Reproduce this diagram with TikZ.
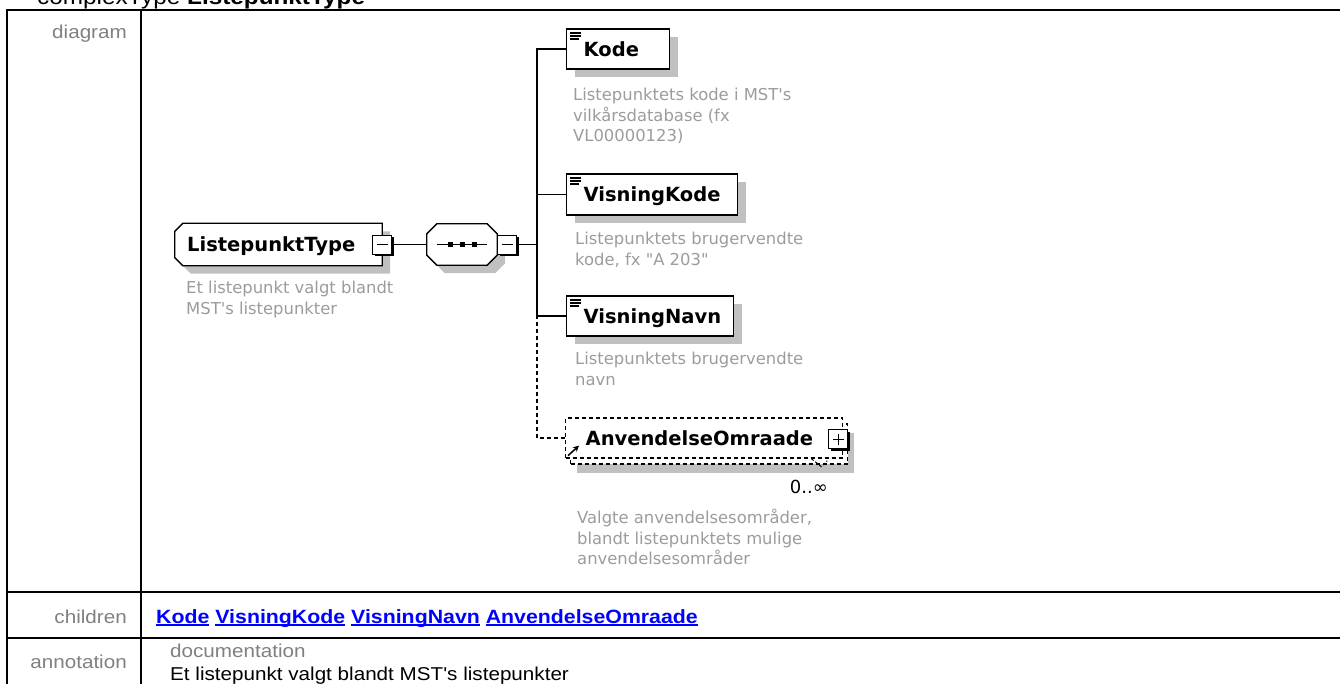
\documentclass[tikz,border=0pt]{standalone}
\usepackage{fontspec}
\setmainfont{Liberation Sans}[FakeStretch=1.11,Ligatures=TeXOff]
\newfontfamily\diafont{DejaVu Sans}[Ligatures=TeXOff]
\usetikzlibrary{arrows.meta,calc,shadows}
\definecolor{ink}{HTML}{000000}
\definecolor{muted}{HTML}{808080}
\definecolor{notegray}{HTML}{9C9C9C}
\definecolor{shade}{HTML}{C0C0C0}
\definecolor{link}{HTML}{0000FF}
\newcommand\linkword[1]{\setbox0\hbox{#1}\rlap{\rule[-2.6pt]{\wd0}{1.4pt}}\box0\relax}

\begin{document}
\begin{tikzpicture}[x=1pt,y=-1pt,font=\fontsize{18.6}{22}\selectfont,
  rule/.style={draw=ink,line width=2pt},
  wire/.style={draw=ink,line width=1.2pt},
  optwire/.style={wire,dash pattern=on 4pt off 3pt},
  rowlabel/.style={text=muted,anchor=base east,inner sep=0pt},
  note/.style={font=\diafont\fontsize{16.4}{20.5}\selectfont,text=notegray,align=left,
    anchor=north west,inner sep=0pt},
  namefont/.style={font=\diafont\bfseries\fontsize{19.5}{22}\selectfont,text height=14pt,text depth=0pt},
  outline/.style={draw=ink,line width=1.3pt,fill=white,
    preaction={fill=shade,transform canvas={xshift=8pt,yshift=-8pt}}},
  boxbase/.style={namefont,draw=ink,line width=1.3pt,fill=white,anchor=west,inner xsep=17pt,
    inner ysep=0pt,minimum height=40pt,align=left},
  elem/.style={boxbase,
    drop shadow={shadow xshift=8pt,shadow yshift=-8pt,fill=shade,opacity=1},
    path picture={\foreach \dy/\len in {4/11,7/11,10/9}
      \draw[line width=1.3pt] ($(path picture bounding box.north west)+(3,\dy)$) -- ++(\len,0);}},
  refelem/.style={boxbase,dash pattern=on 4pt off 3pt,inner xsep=20pt,
    drop shadow={shadow xshift=11pt,shadow yshift=-15pt,fill=shade,opacity=1},
    copy shadow={shadow xshift=5pt,shadow yshift=-6pt,fill=white,draw=ink,dash pattern=on 4pt off 3pt}},
  toggle/.style={draw=ink,line width=1pt,fill=white,minimum size=19pt,inner sep=0pt,
    drop shadow={shadow xshift=2pt,shadow yshift=-2pt,fill=ink,opacity=1}},
  minus/.style={toggle,path picture={\draw[line width=1pt]
    ($(path picture bounding box.west)+(4,0)$) -- ($(path picture bounding box.east)+(-4,0)$);}},
  plus/.style={toggle,path picture={\draw[line width=1pt]
    ($(path picture bounding box.west)+(4,0)$) -- ($(path picture bounding box.east)+(-4,0)$)
    ($(path picture bounding box.north)+(0,4)$) -- ($(path picture bounding box.south)+(0,-4)$);}},
  frame/.style={inner sep=0pt}]
\path[use as bounding box] (0,0) rectangle (1340,683);
% page heading, mostly above the visible area
\node[anchor=base west,inner sep=0pt,font=\fontsize{21.9}{26}\selectfont] (title) at (37,4)
  {complexType \textbf{ListepunktType}};

% table frame and row labels
\draw[rule] (7,700) -- (7,10) -- (1360,10);
\draw[rule] (141,10) -- (141,700);
\draw[rule] (7,592) -- (1360,592);
\draw[rule] (7,638) -- (1360,638);
\node[rowlabel] (diag) at (127,38.5) {diagram};
\node[rowlabel] (kids) at (127,623) {children};
\node[rowlabel] (anno) at (127,668) {annotation};

% complex type: left corners cut
\node[frame,minimum width=207pt,minimum height=42pt] (lptype) at (278.5,244.5) {};
\path[outline] ($(lptype.north west)+(8,0)$) -- (lptype.north east) -- (lptype.south east)
  -- ($(lptype.south west)+(8,0)$) -- ($(lptype.south west)+(0,-8)$) -- ($(lptype.north west)+(0,8)$) -- cycle;
\node[namefont,anchor=west,inner sep=0pt] (lpname) at (187,244.5) {ListepunktType};
\node[minus] (lpfold) at (lptype.east) {};
\node[note] (lpnote) at (186,281) {Et listepunkt valgt blandt\\MST's listepunkter};

% sequence compositor: all corners cut
\node[frame,minimum width=70pt,minimum height=41pt] (seq) at (462,244.5) {};
\path[outline] ($(seq.north west)+(10,0)$) -- ($(seq.north east)+(-10,0)$) -- ($(seq.north east)+(0,10)$)
  -- ($(seq.south east)+(0,-10)$) -- ($(seq.south east)+(-10,0)$) -- ($(seq.south west)+(10,0)$)
  -- ($(seq.south west)+(0,-10)$) -- ($(seq.north west)+(0,10)$) -- cycle;
\draw[line width=1.2pt] ($(seq.center)+(-25,0)$) -- ($(seq.center)+(25,0)$);
\foreach \dx in {-12,0,12}
  \fill[ink] ($(seq.center)+(\dx,0)$) ++(-2.5,-2.5) rectangle ++(5,5);
\node[minus,anchor=west] (seqfold) at (seq.east) {};
\coordinate (fork) at (537,244.5);

% child elements
\node[elem,text width=69pt] (kode) at (566,49) {Kode};
\node[note] (kodenote) at (573,88) {Listepunktets kode i MST's\\vilkårsdatabase (fx\\VL00000123)};
\node[elem,text width=137pt,minimum height=41pt] (viskode) at (566,194.5) {VisningKode};
\node[note] (viskodenote) at (575,232) {Listepunktets brugervendte\\kode, fx "A 203"};
\node[elem,text width=133pt] (visnavn) at (566,316) {VisningNavn};
\node[note] (visnavnnote) at (575,352) {Listepunktets brugervendte\\navn};
\node[refelem,text width=237pt] (anvomr) at (565,438) {AnvendelseOmraade};
\node[plus] (anvfold) at ($(anvomr.east)+(-5,1)$) {};
\draw[line width=1.5pt,-{Stealth[length=6pt,width=6pt]}] ($(anvomr.south west)+(3,-3)$) -- ++(11,-10);
\draw[line width=1pt,dash pattern=on 3pt off 2pt] ($(anvomr.south east)+(-32,0)$) -- ++(10,8) -- ++(6,-6);
\node[anchor=east,inner sep=0pt,font=\diafont\fontsize{18}{20}\selectfont] (occurs) at (828,487) {0..∞};
\node[note] (anvnote) at (577,509) {Valgte anvendelsesområder,\\blandt listepunktets mulige\\anvendelsesområder};

% connectors
\draw[wire] (lpfold.east) -- (seq.west);
\draw[wire] (seqfold.east) -- (fork);
\draw[optwire] (fork) |- (anvomr.west);
\foreach \n in {kode,viskode,visnavn}
  \draw[wire] (fork) |- (\n.west);

% children and annotation rows
\node[anchor=base west,inner sep=0pt,text=link,font=\bfseries\fontsize{19.2}{22}\selectfont] (kidlinks) at (156,623)
  {\linkword{Kode} \linkword{VisningKode} \linkword{VisningNavn} \linkword{AnvendelseOmraade}};
\node[anchor=base west,inner sep=0pt,text=muted] (docs) at (170,657) {documentation};
\node[anchor=base west,inner sep=0pt] (doctext) at (170,680) {Et listepunkt valgt blandt MST's listepunkter};
\end{tikzpicture}
\end{document}
